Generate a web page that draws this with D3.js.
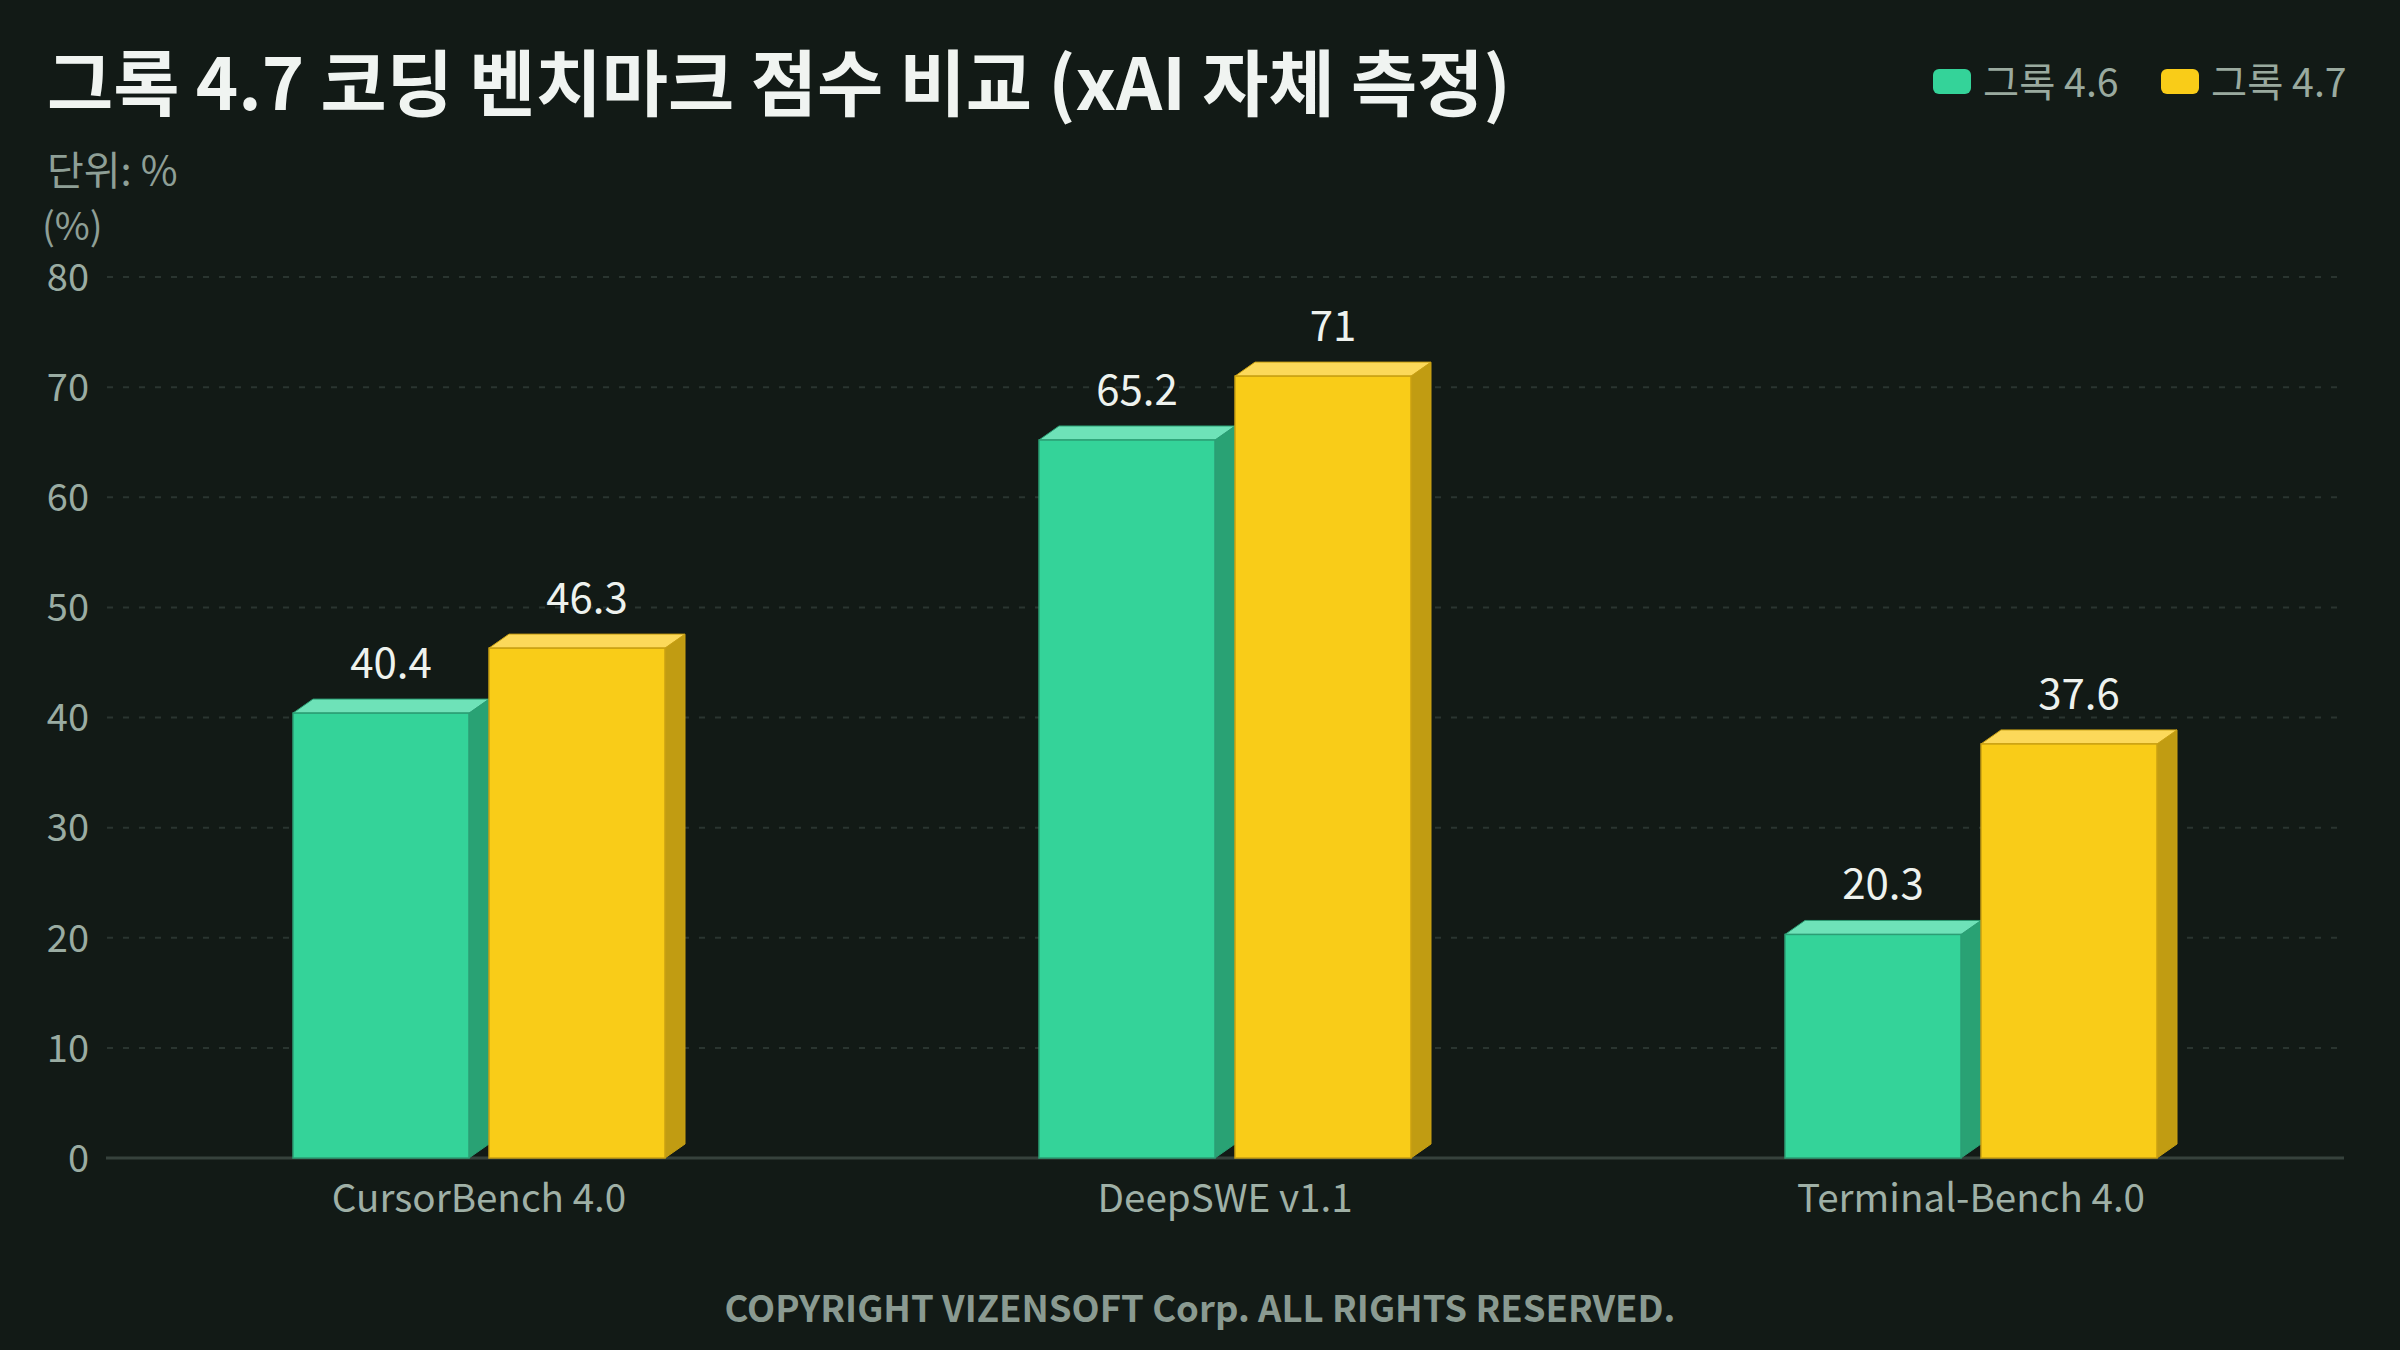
<!DOCTYPE html>
<html>
<head>
<meta charset="utf-8">
<script src="https://cdn.jsdelivr.net/npm/d3@7"></script>
<style>
  html, body { margin: 0; padding: 0; background: #121a16; }
  svg { display: block; }
  text { font-family: "Noto Sans CJK KR", "Noto Sans", sans-serif; }
</style>
</head>
<body>
<svg id="chart" width="2400" height="1350"></svg>
<script>
const categories = ["CursorBench 4.0", "DeepSWE v1.1", "Terminal-Bench 4.0"];
const seriesNames = ["그록 4.6", "그록 4.7"];
const grok46 = [40.4, 65.2, 20.3];
const grok47 = [46.3, 71, 37.6];
const yTicks = [0, 10, 20, 30, 40, 50, 60, 70, 80];
const titleText = "그록 4.7 코딩 벤치마크 점수 비교 (xAI 자체 측정)";
const unitText = "단위: %";
const yAxisTitle = "(%)";
const footerText = "COPYRIGHT VIZENSOFT Corp. ALL RIGHTS RESERVED.";

const palette = {
  "그록 4.6": { front: "#34d399", top: "#6ee2b8", side: "#29a274", stroke: "#2b9e74" },
  "그록 4.7": { front: "#f9cc18", top: "#fcd95a", side: "#c19c12", stroke: "#c9a012" }
};

const W = 2400, H = 1350;
const svg = d3.select("#chart");
svg.append("rect").attr("width", W).attr("height", H).attr("fill", "#121a16");

const plotLeft = 106, plotRight = 2344, plotTop = 277, plotBottom = 1158;
const x0 = d3.scaleBand().domain(categories).range([plotLeft, plotRight]).paddingInner(0).paddingOuter(0);
const x1 = d3.scaleBand().domain(seriesNames).range([-186, 186]).paddingInner(20 / 196);
const y = d3.scaleLinear().domain([0, 80]).range([plotBottom, plotTop]);
const DX = 20, DY = 14;

// gridlines
const grid = svg.append("g");
grid.selectAll("line").data(yTicks.filter(t => t > 0)).join("line")
  .attr("x1", 107).attr("x2", 2340)
  .attr("y1", d => y(d)).attr("y2", d => y(d))
  .attr("stroke", "#2a3530").attr("stroke-width", 2)
  .attr("stroke-dasharray", "6,10");

// y axis labels
const yAxis = d3.axisLeft(y).tickValues(yTicks).tickSize(0).tickPadding(0);
const yg = svg.append("g").attr("transform", "translate(89,0)").call(yAxis);
yg.select(".domain").remove();
yg.selectAll("text").attr("fill", "#9aaca2").attr("font-size", 38)
  .attr("font-family", "'Noto Sans CJK KR', sans-serif").attr("dy", "0.35em");

// x axis line
svg.append("line").attr("x1", plotLeft).attr("x2", plotRight)
  .attr("y1", plotBottom).attr("y2", plotBottom)
  .attr("stroke", "#36423c").attr("stroke-width", 3);

// x labels
const xAxis = d3.axisBottom(x0).tickSize(0).tickPadding(0);
const xg = svg.append("g").attr("transform", `translate(0,${plotBottom})`).call(xAxis);
xg.select(".domain").remove();
xg.selectAll("text").attr("fill", "#9fb0a6").attr("font-size", 38.6)
  .attr("font-family", "'Noto Sans CJK KR', sans-serif").attr("dy", 0).attr("y", 54);

// bars
const rows = [];
categories.forEach((c, i) => {
  rows.push({ cat: c, s: seriesNames[0], v: grok46[i] });
  rows.push({ cat: c, s: seriesNames[1], v: grok47[i] });
});

const bars = svg.append("g");
rows.forEach(d => {
  const cx = x0(d.cat) + x0.bandwidth() / 2;
  const xl = cx + x1(d.s);
  const xr = xl + x1.bandwidth();
  const yt = y(d.v), yb = y(0);
  const col = palette[d.s];
  const g = bars.append("g");
  // side face
  g.append("polygon")
    .attr("points", [[xr, yt], [xr + DX, yt - DY], [xr + DX, yb - DY], [xr, yb]].map(p => p.join(",")).join(" "))
    .attr("fill", col.side).attr("stroke", col.stroke).attr("stroke-width", 1);
  // top face
  g.append("polygon")
    .attr("points", [[xl, yt], [xl + DX, yt - DY], [xr + DX, yt - DY], [xr, yt]].map(p => p.join(",")).join(" "))
    .attr("fill", col.top).attr("stroke", col.stroke).attr("stroke-width", 1);
  // front
  g.append("rect").attr("x", xl).attr("y", yt).attr("width", xr - xl).attr("height", yb - yt)
    .attr("fill", col.front).attr("stroke", col.stroke).attr("stroke-width", 1.5);
  // value label
  g.append("text").attr("x", (xl + xr + DX) / 2).attr("y", yt - DY - 21)
    .attr("text-anchor", "middle").attr("font-size", 42).attr("fill", "#eef2ee")
    .text(d.v);
});

// title
svg.append("text").attr("x", 47).attr("y", 110)
  .attr("font-size", 72).attr("font-weight", 700).attr("fill", "#f0f4f1")
  .text(titleText);

svg.append("text").attr("x", 47).attr("y", 185)
  .attr("font-size", 40).attr("fill", "#8e9f96").text(unitText);

svg.append("text").attr("x", 42).attr("y", 240)
  .attr("font-size", 38).attr("fill", "#8e9f96").text(yAxisTitle);

// legend
const legend = svg.append("g");
const legendItems = [{ s: seriesNames[0], x: 1933 }, { s: seriesNames[1], x: 2161 }];
legendItems.forEach(it => {
  legend.append("rect").attr("x", it.x).attr("y", 69).attr("width", 38).attr("height", 25)
    .attr("rx", 6).attr("fill", palette[it.s].front);
  legend.append("text").attr("x", it.x + 50).attr("y", 97)
    .attr("font-size", 39.3).attr("font-weight", 400).attr("fill", "#9aaa9f").text(it.s);
});

// footer
svg.append("text").attr("x", 1200).attr("y", 1322).attr("text-anchor", "middle")
  .attr("font-size", 36.5).attr("font-weight", 700).attr("fill", "#8a9a91").text(footerText);
</script>
</body>
</html>
